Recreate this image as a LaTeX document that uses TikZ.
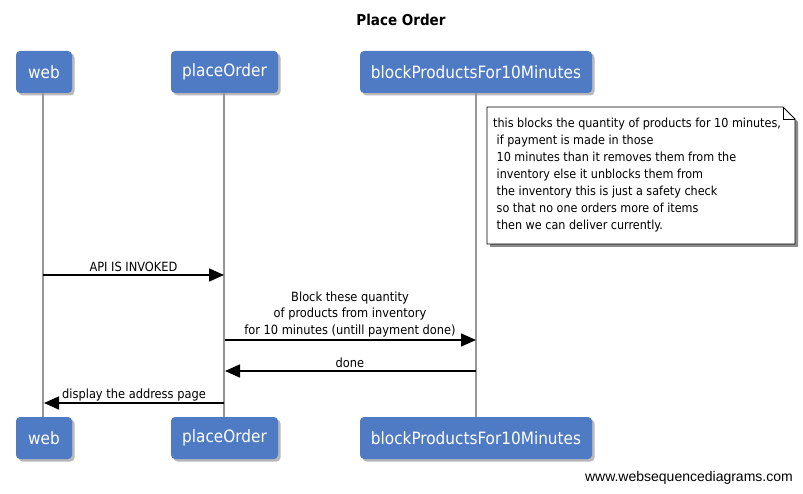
\documentclass[tikz,border=0pt]{standalone}
\usepackage{fontspec}
\setmainfont{DejaVu Sans Condensed}
\newfontfamily\footfont{Liberation Sans}
\usetikzlibrary{arrows.meta,shadows}
\definecolor{boxblue}{RGB}{79,122,196}
\definecolor{lifegray}{RGB}{150,150,150}
\tikzset{
  actor/.style={rectangle, rounded corners=4pt, fill=boxblue, text=white,
    minimum height=42pt, inner sep=0pt, font=\fontsize{17}{19}\selectfont,
    drop shadow={shadow xshift=2.5pt, shadow yshift=-2.5pt, fill=black!55}},
  life/.style={draw=lifegray, line width=2pt},
  msg/.style={draw=black, line width=1.6pt, -{Triangle[length=15pt,width=13pt]}},
  msglabel/.style={font=\fontsize{12.7}{16.5}\selectfont, align=center, inner sep=0pt},
}
\begin{document}
\begin{tikzpicture}[x=1pt,y=-1pt]
\useasboundingbox (0,0) rectangle (803,494);
\fill[white] (0,0) rectangle (803,494);
% title
\node[font=\bfseries\fontsize{15}{17}\selectfont] (title) at (401,20) {Place Order};
% actors top
\node[actor, minimum width=56pt] (webT) at (44,72) {web};
\node[actor, minimum width=107pt] (poT) at (224.5,72) {placeOrder};
\node[actor, minimum width=232pt] (bpT) at (476,72) {blockProductsFor10Minutes};
% actors bottom
\node[actor, minimum width=56pt] (webB) at (44,438) {web};
\node[actor, minimum width=107pt] (poB) at (224.5,438) {placeOrder};
\node[actor, minimum width=232pt] (bpB) at (476,438) {blockProductsFor10Minutes};
% lifelines
\draw[life] (43,93) coordinate (wl1) -- (43,417) coordinate (wl2);
\draw[life] (224,93) coordinate (pl1) -- (224,417) coordinate (pl2);
\draw[life] (476,93) coordinate (bl1) -- (476,417) coordinate (bl2);
% note (shadow, body, fold)
\fill[black!45] (490,110) -- (786,110) -- (798,122) -- (798,247) -- (490,247) -- cycle;
\filldraw[fill=white, draw=black, line width=0.8pt]
  (487,107) coordinate (nw) -- (783,107) coordinate (nf1) -- (795,119) coordinate (nf2)
  -- (795,244) coordinate (se) -- (487,244) coordinate (sw) -- cycle;
\draw[line width=0.8pt] (nf1) -- (783,119) -- (nf2);
\node[anchor=north west, align=left, inner sep=0pt, font=\fontsize{12.45}{17}\selectfont] (notetext) at (493,118)
  {this blocks the quantity of products for 10 minutes,\\
   \hspace*{3.5pt}if payment is made in those\\
   \hspace*{3.5pt}10 minutes than it removes them from the\\
   \hspace*{3.5pt}inventory else it unblocks them from\\
   \hspace*{3.5pt}the inventory this is just a safety check\\
   \hspace*{3.5pt}so that no one orders more of items\\
   \hspace*{3.5pt}then we can deliver currently.};
% messages
\coordinate (m1a) at (43,275); \coordinate (m1b) at (224,275);
\coordinate (m2a) at (225,340); \coordinate (m2b) at (476,340);
\coordinate (m3a) at (476,371); \coordinate (m3b) at (225,371);
\coordinate (m4a) at (224,403); \coordinate (m4b) at (44,403);
\draw[msg] (m1a) -- (m1b);
\node[msglabel] (l1) at (133.5,267) {API IS INVOKED};
\draw[msg] (m2a) -- (m2b);
\node[msglabel, anchor=south] (l2) at (350,337) {Block these quantity\\of products from inventory\\for 10 minutes (untill payment done)};
\draw[msg] (m3a) -- (m3b);
\node[msglabel] (l3) at (350,363) {done};
\draw[msg] (m4a) -- (m4b);
\node[msglabel] (l4) at (134,395) {display the address page};
% footer
\node[font=\footfont\fontsize{14}{16}\selectfont, anchor=east, inner sep=0pt] (foot) at (793,478) {www.websequencediagrams.com};
\end{tikzpicture}
\end{document}
